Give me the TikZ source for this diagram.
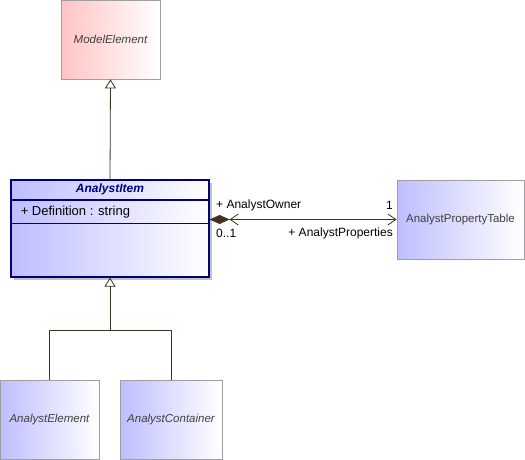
\documentclass[tikz,border=0pt]{standalone}
\usepackage{fontspec}
\setmainfont{Liberation Sans}
\usetikzlibrary{arrows.meta,shadows}

\definecolor{pinkcol}{RGB}{255,196,196}
\definecolor{bluecol}{RGB}{190,190,255}
\definecolor{navycol}{RGB}{0,0,128}
\definecolor{linecol}{RGB}{64,48,32}
\definecolor{textcol}{RGB}{64,64,64}

\begin{document}
\begin{tikzpicture}[x=1pt, y=-1pt,
    font=\fontsize{11.5}{13}\selectfont,
    classbox/.style={draw=gray!75, line width=0.8pt, left color=bluecol, right color=white, inner sep=0pt, text=textcol, minimum height=79pt},
    modelbox/.style={classbox, left color=pinkcol},
    itembox/.style={draw=navycol, line width=1.2pt, left color=bluecol, right color=white, inner sep=0pt, minimum width=198pt, minimum height=97pt,
      drop shadow={shadow xshift=2.5pt, shadow yshift=-2.5pt, fill=gray!60, opacity=0.8}},
    compartment/.style={draw=navycol, line width=0.8pt, inner sep=0pt, minimum width=198pt},
    rolelabel/.style={inner sep=0pt, text=black, font=\fontsize{12}{14}\selectfont},
    genarrow/.style={-{Triangle[open, length=9pt, width=11pt, fill=white]}, draw=linecol, line width=0.8pt},
    assocarrow/.style={{Diamond[length=20pt, width=9pt, fill=linecol]Straight Barb[length=8pt, width=11pt]}-{Straight Barb[length=8pt, width=11pt]}, draw=linecol, line width=0.8pt}
  ]
  \useasboundingbox (0,0) rectangle (525,460);

  \coordinate (modelp) at (110.5, 39.5);
  \coordinate (itemp)  at (110, 228.5);
  \coordinate (tablep) at (460.5, 219.5);
  \coordinate (elemp)  at (49.5, 419.5);
  \coordinate (contp)  at (171, 419.5);
  \coordinate (joint)  at (110, 330);

  % Classes
  \node[modelbox, minimum width=99pt] (model) at (modelp) {\itshape ModelElement};

  \node[itembox] (item) at (itemp) {};
  \node[compartment, anchor=north, minimum height=20pt, text=navycol] (itemtitle) at (item.north) {\fontsize{12}{14}\selectfont\bfseries\itshape AnalystItem};
  \node[compartment, anchor=north, minimum height=23pt] (itemattr) at (itemtitle.south) {};
  \node[anchor=west, inner sep=0pt, font=\fontsize{13}{15}\selectfont] (defattr) at ([xshift=10pt]itemattr.west) {+ Definition : string};

  \node[classbox, minimum width=127pt] (table) at (tablep) {AnalystPropertyTable};

  \node[classbox, minimum width=99pt] (elem) at (elemp) {\itshape AnalystElement};
  \node[classbox, minimum width=102pt] (cont) at (contp) {\itshape AnalystContainer};

  % Generalizations
  \draw[genarrow] (item.north) -- (model.south);
  \draw[genarrow] (elem.north) |- (joint) -| (item.south);
  \draw[draw=linecol, line width=0.8pt] (cont.north) |- (joint);

  % Association
  \draw[assocarrow] (item.east |- table.west) -- (table.west);
  \node[rolelabel, anchor=west] (ownerrole) at (216, 205) {+ AnalystOwner};
  \node[rolelabel, anchor=east] (ownermult) at (393, 205) {1};
  \node[rolelabel, anchor=west] (propmult) at (216, 233) {0..1};
  \node[rolelabel, anchor=east] (proprole) at (393, 233) {+ AnalystProperties};

\end{tikzpicture}
\end{document}
